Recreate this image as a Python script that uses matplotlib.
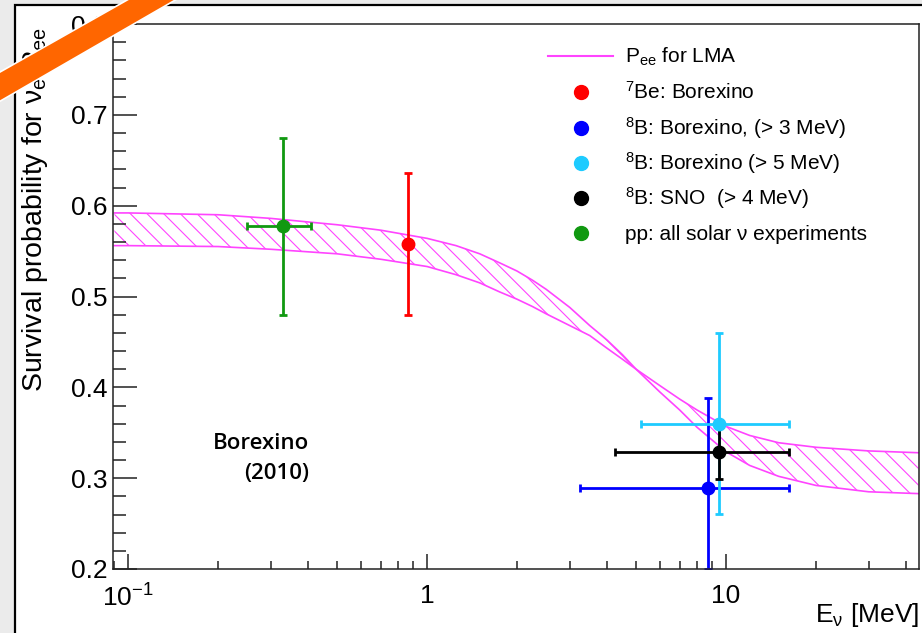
import numpy as np
import matplotlib.pyplot as plt
import matplotlib.transforms as mtransforms
from matplotlib.patches import Rectangle, Polygon
from matplotlib.lines import Line2D
from matplotlib.ticker import MultipleLocator, LogLocator, NullFormatter, FormatStrFormatter

plt.rcParams['font.family'] = ['Liberation Sans', 'DejaVu Sans']
plt.rcParams['mathtext.fontset'] = 'custom'
plt.rcParams['mathtext.rm'] = 'Liberation Sans'
plt.rcParams['mathtext.it'] = 'Liberation Sans:italic'
plt.rcParams['mathtext.bf'] = 'Liberation Sans:bold'
plt.rcParams['hatch.linewidth'] = 0.8
plt.rcParams['hatch.color'] = '#ff44ff'

# LMA band: the two edge curves
E_band = [0.09, 0.1, 0.2, 0.3, 0.5, 0.7, 1.0, 1.25, 1.5, 1.75, 2.0, 2.25, 2.5, 3.0, 3.5, 4.0, 4.5, 5.0,
          6.0, 7.0, 8.0, 10.0, 12.0, 15.0, 20.0, 30.0, 44.0]
P_edge_a = [0.592, 0.592, 0.590, 0.586, 0.579, 0.573, 0.564, 0.556, 0.547, 0.537, 0.528, 0.518, 0.508,
            0.488, 0.468, 0.452, 0.436, 0.420,
            0.395, 0.375, 0.356, 0.329, 0.314, 0.302, 0.292, 0.285, 0.283]
P_edge_b = [0.556, 0.556, 0.555, 0.552, 0.547, 0.541, 0.533, 0.524, 0.515, 0.505, 0.497, 0.489, 0.481,
            0.468, 0.457, 0.443, 0.431, 0.420,
            0.402, 0.387, 0.375, 0.357, 0.347, 0.339, 0.334, 0.330, 0.328]

# measurements
names = ['$\\mathregular{^{7}}$Be: Borexino',
         '$\\mathregular{^{8}}$B: Borexino, (> 3 MeV)',
         '$\\mathregular{^{8}}$B: Borexino (> 5 MeV)',
         '$\\mathregular{^{8}}$B: SNO  (> 4 MeV)',
         'pp: all solar ν experiments']
colors = ['#ff0000', '#0000ff', '#1ecbff', '#000000', '#119911']
E_pts = [0.862, 8.7, 9.5, 9.5, 0.33]
E_lo = [0.862, 3.25, 5.2, 4.26, 0.25]
E_hi = [0.862, 16.3, 16.3, 16.3, 0.41]
P_pts = [0.558, 0.289, 0.360, 0.329, 0.578]
P_lo = [0.480, 0.200, 0.261, 0.299, 0.480]
P_hi = [0.636, 0.388, 0.460, 0.357, 0.675]

W, H = 922, 633
fig = plt.figure(figsize=(W / 100, H / 100), dpi=100)
fig.patch.set_facecolor('#ebebeb')
# image pixel coords (y down) -> display
pix = mtransforms.Affine2D().scale(1 / W, -1 / H).translate(0, 1) + fig.transFigure

fig.add_artist(Rectangle((15, 5), 960, 680, transform=pix, facecolor='white',
                         edgecolor='black', lw=1.6, zorder=-5))

ax = fig.add_axes([113 / W, 1 - 569 / H, (919 - 113) / W, (569 - 24) / H])
ax.set_facecolor('white')

pink = '#ff44ff'
ax.fill_between(E_band, P_edge_a, P_edge_b, facecolor='none', edgecolor=pink,
                hatch='\\\\', linewidth=0)
ax.plot(E_band, P_edge_a, color=pink, lw=1.2)
ax.plot(E_band, P_edge_b, color=pink, lw=1.2)

for i in [1, 2, 3, 0, 4]:
    xe = [[E_pts[i] - E_lo[i]], [E_hi[i] - E_pts[i]]]
    ye = [[P_pts[i] - P_lo[i]], [P_hi[i] - P_pts[i]]]
    if E_lo[i] == E_hi[i]:
        xe = None
    ax.errorbar([E_pts[i]], [P_pts[i]], xerr=xe, yerr=ye, fmt='o', color=colors[i],
                ms=9, elinewidth=2, capsize=3, capthick=2)

ax.set_xscale('log')
ax.set_xlim(0.089, 44.2)
ax.set_ylim(0.2, 0.8)
ax.set_xticks([0.1, 1, 10])
ax.set_xticklabels(['$\\mathregular{10^{-1}}$', '1', '10'])
ax.xaxis.set_minor_locator(LogLocator(base=10, subs=np.arange(2, 10)))
ax.xaxis.set_minor_formatter(NullFormatter())
ax.yaxis.set_major_locator(MultipleLocator(0.1))
ax.yaxis.set_minor_locator(MultipleLocator(0.02))
ax.yaxis.set_major_formatter(FormatStrFormatter('%.1f'))

ax.tick_params(axis='both', which='both', direction='in', top=False, right=False,
               width=1.1, color='#222222', labelsize=19)
ax.tick_params(axis='y', which='major', length=17, pad=4)
ax.tick_params(axis='y', which='minor', length=9.5)
ax.tick_params(axis='x', which='major', length=11, pad=11)
ax.tick_params(axis='x', which='minor', length=6)
for s in ax.spines.values():
    s.set_linewidth(1.1)
    s.set_color('#222222')

ax.set_xlabel('E$\\mathregular{_{ν}}$ [MeV]', fontsize=19, ha='right', va='top')
ax.xaxis.set_label_coords(1.0, -0.058)
ax.set_ylabel('Survival probability for ν$\\mathregular{_{e}}$ P$\\mathregular{_{ee}}$',
              fontsize=20.5, ha='right')
ax.yaxis.set_label_coords(-0.078, 0.995)

ax.text(0.243, 0.203, 'Borexino\n(2010)', transform=ax.transAxes, ha='right', va='center',
        multialignment='right', family=['Open Sans', 'DejaVu Sans'], fontweight='semibold',
        fontsize=16, linespacing=1.6)

# legend, drawn by hand so the rows are evenly spaced
row_y = [56, 92, 127.5, 162.5, 198, 233]
fig.add_artist(Line2D([548, 613], [row_y[0], row_y[0]], transform=pix, color=pink, lw=1.5))
fig.text(625, row_y[0] + 7, 'P$\\mathregular{_{ee}}$ for LMA', transform=pix, fontsize=15, va='baseline')
for i in range(5):
    fig.add_artist(Line2D([581], [row_y[i + 1]], transform=pix, marker='o', ms=10,
                          color=colors[i], lw=0))
    fig.text(625, row_y[i + 1] + 7, names[i], transform=pix, fontsize=15, va='baseline')

fig.add_artist(Polygon([(-10, 77.7), (136, -5), (184, -5), (-10, 107)], closed=True,
                       transform=pix, facecolor='#ff6600', edgecolor='white', lw=1.2, zorder=10))

fig.savefig('out.png', dpi=100, facecolor=fig.get_facecolor())
